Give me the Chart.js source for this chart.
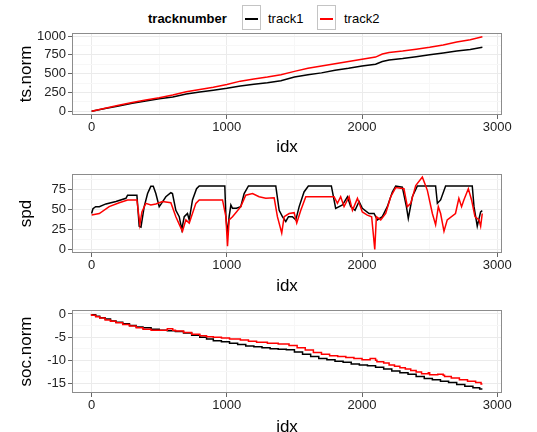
<!DOCTYPE html>
<html>
<head>
<meta charset="utf-8">
<script src="https://cdn.jsdelivr.net/npm/chart.js@4/dist/chart.umd.min.js"></script>
<style>
  body { margin: 0; width: 537px; height: 432px; overflow: hidden; background: #fff; font-family: "Liberation Sans", Arial, sans-serif; position: relative; }
  .panel { position: absolute; left: 0; width: 537px; }
  .key { position: absolute; top: 5px; width: 19px; height: 25px; border: 1px solid #c4c4c4; box-sizing: border-box; background: #fff; }
  .key i { position: absolute; left: 2px; right: 2px; top: 12px; height: 1.5px; }
  .lab { position: absolute; top: 11px; font-size: 13px; line-height: 15px; color: #000; }
</style>
</head>
<body>
<div class="lab" style="left:148px;font-weight:bold">tracknumber</div>
<div class="key" style="left:242px"><i style="background:#000"></i></div>
<div class="lab" style="left:268px">track1</div>
<div class="key" style="left:317px"><i style="background:#ff0000"></i></div>
<div class="lab" style="left:344px">track2</div>

<div class="panel" style="top:28px;height:130px"><canvas id="c1"></canvas></div>
<div class="panel" style="top:160px;height:137px"><canvas id="c2"></canvas></div>
<div class="panel" style="top:296px;height:142px"><canvas id="c3"></canvas></div>

<script>
// x axis gridlines / labels (shared by all three panels)
const xGrid = [0, 500, 1000, 1500, 2000, 2500, 3000];
const xMajor = [0, 1000, 2000, 3000];

// ts.norm
const tsIdx = [0, 100, 200, 300, 400, 500, 600, 700, 800, 900, 1000, 1100, 1200, 1300, 1400, 1500, 1600, 1700, 1800, 1900, 2000, 2100, 2150, 2200, 2300, 2400, 2500, 2600, 2700, 2800, 2890];
const tsTrack1 = [0, 35, 70, 105, 135, 165, 190, 230, 255, 280, 305, 335, 360, 380, 405, 455, 485, 510, 545, 570, 600, 625, 660, 680, 700, 725, 750, 775, 800, 820, 850];
const tsTrack2 = [0, 40, 80, 115, 150, 180, 215, 260, 290, 320, 355, 400, 430, 455, 485, 530, 570, 600, 630, 660, 690, 720, 760, 780, 800, 825, 850, 880, 920, 950, 990];
const tsGrid = [0, 125, 250, 375, 500, 625, 750, 875, 1000];
const tsMajor = [0, 250, 500, 750, 1000];

// spd
const spdIdx1 = [0, 10, 30, 57, 106, 180, 254, 266, 335, 352, 365, 389, 414, 438, 456, 475, 500, 517, 549, 586, 598, 623, 648, 667, 685, 709, 722, 746, 776, 796, 985, 993, 1005, 1017, 1030, 1042, 1071, 1103, 1128, 1160, 1362, 1387, 1411, 1436, 1456, 1485, 1510, 1535, 1571, 1603, 1773, 1805, 1855, 1892, 1916, 1948, 1978, 2002, 2052, 2089, 2113, 2150, 2187, 2224, 2249, 2298, 2328, 2342, 2372, 2409, 2544, 2557, 2581, 2618, 2815, 2828, 2852, 2877, 2889];
const spdTrack1 = [45, 51, 53.5, 53.6, 57, 60, 64, 68, 68, 29, 28, 53.6, 70, 79, 79, 70, 53.6, 57.7, 66, 71, 70, 49, 41, 25, 41, 45, 37, 62, 76, 79.5, 79.5, 41, 19, 41, 55.6, 51.5, 51.5, 53.6, 70, 79.5, 79.5, 49, 41, 35, 41, 41, 37, 53.6, 72, 79.5, 79.5, 51.5, 55.6, 66, 53.6, 49, 60, 51.5, 45, 45, 37, 41, 53.6, 72, 79.5, 78, 53.6, 39, 66, 79.5, 79.5, 57.7, 62, 79.5, 79.5, 53.6, 29, 47, 48.6];
const spdIdx2 = [0, 57, 130, 204, 266, 335, 357, 372, 401, 438, 475, 524, 586, 623, 660, 672, 697, 722, 771, 796, 968, 993, 1005, 1017, 1042, 1071, 1103, 1140, 1190, 1239, 1288, 1350, 1374, 1406, 1424, 1461, 1498, 1517, 1547, 1584, 1793, 1818, 1842, 1867, 1904, 1929, 1966, 2002, 2039, 2071, 2094, 2106, 2138, 2175, 2212, 2249, 2310, 2335, 2360, 2397, 2446, 2483, 2520, 2544, 2564, 2581, 2606, 2630, 2691, 2716, 2736, 2753, 2786, 2810, 2835, 2865, 2877, 2889];
const spdTrack2 = [43, 45, 53.6, 58.5, 62, 62, 31, 47, 57.7, 55.6, 57, 60, 58.5, 41, 27, 22.7, 37, 33, 57.7, 62, 62, 41, 4, 37, 41, 47, 53.6, 68, 70, 66, 64, 64.7, 41, 20.6, 41, 45, 46, 33, 49, 66, 66, 57.7, 66, 53.6, 66, 49, 64, 47, 43, 41, 0, 41, 37, 45, 66, 77.5, 76, 53.6, 57.7, 80, 90.6, 74, 45, 31, 53.6, 45, 22.7, 37, 45, 64, 53.6, 62, 76, 62, 41, 37, 29, 45];
const spdGrid = [0, 12.5, 25, 37.5, 50, 62.5, 75, 87.5];
const spdMajor = [0, 25, 50, 75];

// soc.norm (step lines)
const socIdx1 = [0, 30, 60, 100, 140, 180, 230, 280, 330, 380, 440, 500, 560, 620, 680, 740, 800, 850, 900, 960, 1020, 1080, 1140, 1200, 1260, 1320, 1380, 1440, 1500, 1560, 1620, 1680, 1740, 1800, 1860, 1920, 1980, 2040, 2100, 2160, 2220, 2280, 2340, 2400, 2460, 2520, 2580, 2640, 2700, 2760, 2820, 2870, 2890];
const socTrack1 = [0, -0.2, -0.5, -0.8, -1.1, -1.5, -1.8, -2.1, -2.5, -2.8, -3.0, -3.3, -3.5, -3.6, -3.8, -4.1, -4.6, -5.0, -5.4, -5.8, -6.0, -6.3, -6.6, -6.9, -7.1, -7.3, -7.5, -7.6, -7.7, -8.2, -8.7, -9.2, -9.6, -9.9, -10.2, -10.4, -10.8, -11.0, -11.2, -11.5, -11.9, -12.3, -12.7, -13.0, -13.5, -13.9, -14.2, -14.5, -14.8, -15.2, -15.6, -15.9, -16.2];
const socIdx2 = [0, 30, 60, 100, 140, 180, 230, 280, 330, 380, 440, 500, 560, 600, 620, 680, 740, 800, 850, 900, 960, 1020, 1100, 1160, 1220, 1300, 1380, 1460, 1520, 1580, 1640, 1700, 1760, 1820, 1880, 1940, 2000, 2060, 2100, 2110, 2160, 2200, 2240, 2280, 2320, 2360, 2400, 2440, 2490, 2500, 2560, 2600, 2610, 2660, 2720, 2780, 2840, 2880, 2890];
const socTrack2 = [0, -0.3, -0.6, -0.9, -1.3, -1.6, -1.9, -2.3, -2.6, -3.0, -3.3, -3.5, -3.5, -3.2, -3.5, -3.7, -4.0, -4.4, -4.7, -4.9, -5.0, -5.2, -5.4, -5.6, -5.9, -6.1, -6.3, -6.5, -6.8, -7.3, -7.8, -8.3, -8.7, -9.0, -9.2, -9.4, -9.6, -9.9, -9.6, -10.0, -10.3, -10.6, -11.0, -11.3, -11.6, -11.9, -12.2, -12.5, -12.9, -12.7, -13.1, -13.0, -13.2, -13.5, -13.8, -14.2, -14.5, -14.8, -15.1];
const socGrid = [-15, -12.5, -10, -7.5, -5, -2.5, 0];
const socMajor = [-15, -10, -5, 0];

const FONT = '"Liberation Sans", Arial, sans-serif';
Chart.defaults.font.family = FONT;
Chart.defaults.animation = false;

const pts = (xs, ys) => xs.map((x, i) => ({ x: x, y: ys[i] }));

function noPad(s) { s.paddingTop = 0; s.paddingBottom = 0; s.paddingLeft = 0; s.paddingRight = 0; }

function gridOpts(major) {
    return {
        color: c => (c.tick && major.includes(c.tick.value)) ? '#ebebeb' : '#f7f7f7',
        tickColor: c => (c.tick && major.includes(c.tick.value)) ? '#666' : 'rgba(0,0,0,0)',
        tickLength: 4,
        lineWidth: 1
    };
}

// draws the grey box round the plot area
const panelBorder = {
    id: 'panelBorder',
    afterDraw(chart) {
        const a = chart.chartArea, ctx = chart.ctx;
        ctx.save();
        ctx.strokeStyle = '#8c8c8c';
        ctx.lineWidth = 1;
        ctx.strokeRect(a.left + 0.5, a.top + 0.5, a.right - a.left - 1, a.bottom - a.top - 1);
        ctx.restore();
    }
};

function makeChart(id, opt) {
    new Chart(document.getElementById(id), {
        type: 'line',
        data: {
            datasets: [
                { label: 'track2', data: pts(opt.idx2, opt.y2), borderColor: '#ff0000', borderWidth: 1.5, pointRadius: 0, stepped: opt.stepped || false },
                { label: 'track1', data: pts(opt.idx1, opt.y1), borderColor: '#000000', borderWidth: 1.5, pointRadius: 0, stepped: opt.stepped || false }
            ]
        },
        options: {
            responsive: true,
            maintainAspectRatio: false,
            layout: { padding: { top: opt.padTop, right: 35, left: 0, bottom: 0 } },
            plugins: { legend: { display: false }, tooltip: { enabled: false } },
            scales: {
                x: {
                    type: 'linear', min: -145, max: 3035,
                    afterBuildTicks: s => { s.ticks = xGrid.map(v => ({ value: v })); },
                    afterFit: s => { s.height = opt.xHeight; noPad(s); },
                    ticks: { autoSkip: false, maxRotation: 0, padding: 1, color: '#222', font: { size: 13 },
                             callback: v => xMajor.includes(v) ? String(v) : '' },
                    grid: gridOpts(xMajor),
                    border: { display: false },
                    title: { display: true, text: 'idx', color: '#000', font: { size: 17 }, padding: { top: 0, bottom: 0 } }
                },
                y: {
                    type: 'linear', min: opt.yMin, max: opt.yMax,
                    afterBuildTicks: s => { s.ticks = opt.yGrid.map(v => ({ value: v })); },
                    afterFit: s => { s.width = 72; noPad(s); },
                    ticks: { autoSkip: false, padding: 2, color: '#222', font: { size: 13 },
                             callback: v => opt.yMajor.includes(v) ? String(v) : '' },
                    grid: gridOpts(opt.yMajor),
                    border: { display: false },
                    title: { display: true, text: opt.yTitle, color: '#000', font: { size: 17 }, padding: { top: 16, bottom: 0 } }
                }
            }
        },
        plugins: [panelBorder]
    });
}

makeChart('c1', { idx1: tsIdx, y1: tsTrack1, idx2: tsIdx, y2: tsTrack2, yMin: -50, yMax: 1040,
    yGrid: tsGrid, yMajor: tsMajor, yTitle: 'ts.norm', padTop: 5, xHeight: 43 });
makeChart('c2', { idx1: spdIdx1, y1: spdTrack1, idx2: spdIdx2, y2: spdTrack2, yMin: -4.5, yMax: 94.5,
    yGrid: spdGrid, yMajor: spdMajor, yTitle: 'spd', padTop: 14, xHeight: 44 });
makeChart('c3', { idx1: socIdx1, y1: socTrack1, idx2: socIdx2, y2: socTrack2, yMin: -17.05, yMax: 0.85,
    yGrid: socGrid, yMajor: socMajor, yTitle: 'soc.norm', padTop: 14, xHeight: 45, stepped: 'after' });
</script>
</body>
</html>
